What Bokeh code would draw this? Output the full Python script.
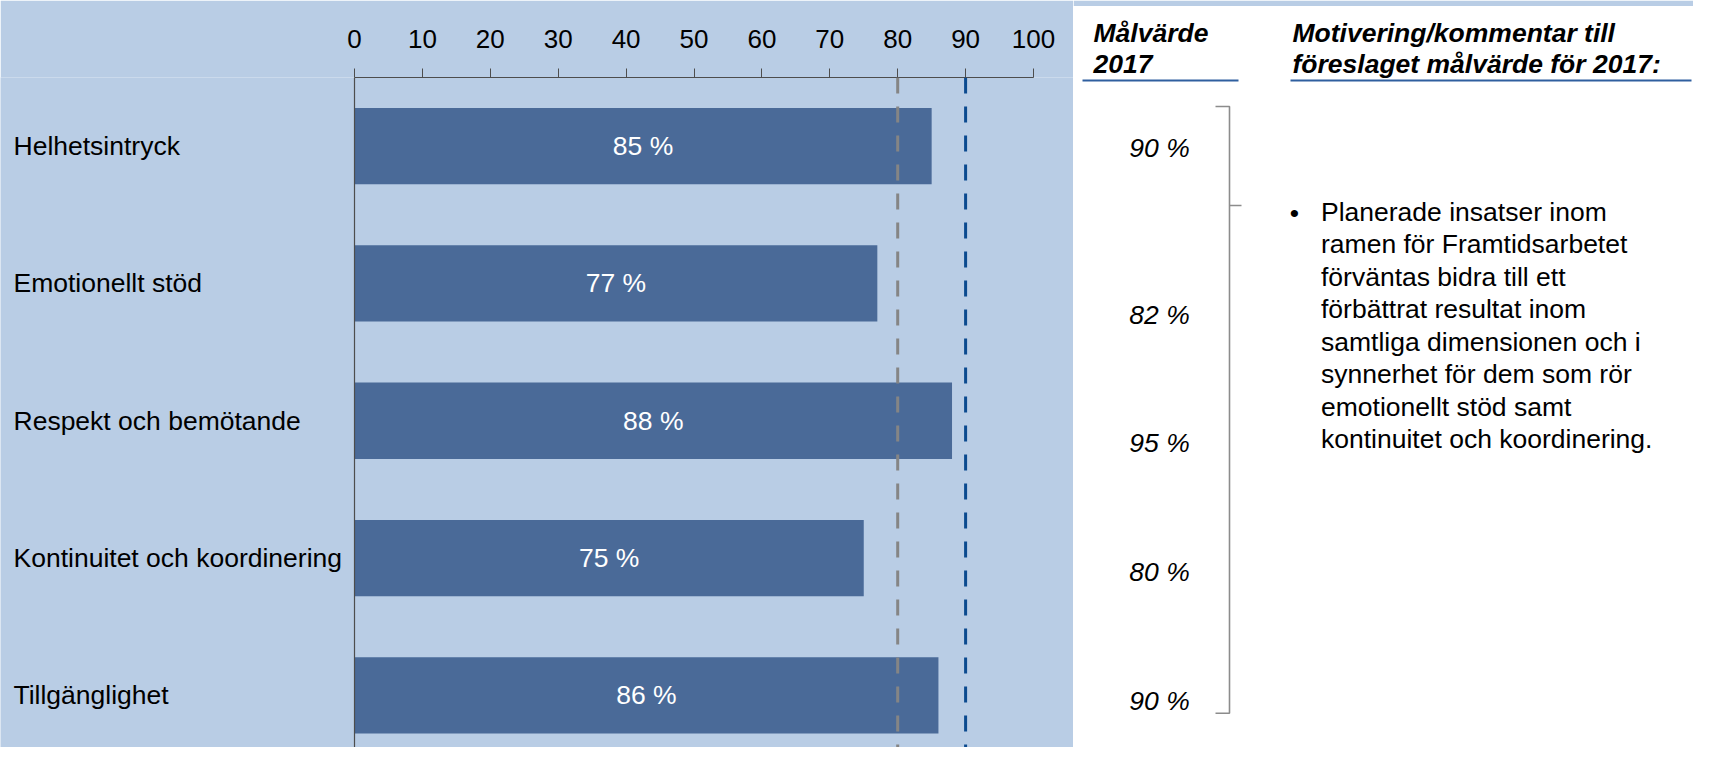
from bokeh.plotting import figure
from bokeh.models import Range1d, FixedTicker, Span, ColumnDataSource
from bokeh.layouts import row
from bokeh.embed import file_html
from bokeh.resources import INLINE
from bokeh.core.properties import value

# ---------------- data ----------------
categories = ["Helhetsintryck", "Emotionellt stöd", "Respekt och bemötande",
              "Kontinuitet och koordinering", "Tillgänglighet"]
results_pct = [85, 77, 88, 75, 86]
targets_2017 = [90, 82, 95, 80, 90]
reference_lines = [80, 90]
x_ticks = [0, 10, 20, 30, 40, 50, 60, 70, 80, 90, 100]
header_target = ["Målvärde", "2017"]
header_comment = ["Motivering/kommentar till", "föreslaget målvärde för 2017:"]
comment_lines = ["Planerade insatser inom", "ramen för Framtidsarbetet",
                 "förväntas bidra till ett", "förbättrat resultat inom",
                 "samtliga dimensionen och i", "synnerhet för dem som rör",
                 "emotionellt stöd samt", "kontinuitet och koordinering."]

# ---------------- styles / layout ----------------
FONT_NAME = "Liberation Sans"
FONT = value(FONT_NAME)
FS = "26.5px"
BG = "#B9CDE5"
BAR = "#4A6A98"
H = 747
WL = 1073
WR = 620

# ---------------- left: bar chart ----------------
pos = list(range(len(categories)))
zero_px = 354
px_per_unit = 6.79
xmin = -zero_px / px_per_unit
xmax = (WL - zero_px) / px_per_unit
band_px = 137.3
frame_top = 77
ybottom = -0.5 + (H - frame_top) / band_px

p = figure(width=WL, height=H, output_backend="svg", toolbar_location=None,
           x_range=Range1d(xmin, xmax), y_range=Range1d(ybottom, -0.5),
           x_axis_location="above", y_axis_location=None,
           min_border_left=0, min_border_right=0, min_border_bottom=0,
           min_border_top=frame_top)
p.frame_align = False
p.background_fill_color = BG
p.border_fill_color = BG
p.outline_line_color = None
p.grid.visible = False

ax = p.xaxis[0]
ax.ticker = FixedTicker(ticks=x_ticks)
ax.bounds = (0, 100)
ax.axis_line_color = "#4D4D4D"
ax.major_tick_line_color = "#4D4D4D"
ax.major_tick_in = 0
ax.major_tick_out = 9
ax.minor_tick_line_color = None
ax.major_label_text_font = FONT_NAME
ax.major_label_text_font_size = "26px"
ax.major_label_text_color = "#000000"
ax.major_label_standoff = 21

src = ColumnDataSource(dict(
    y=pos, right=results_pct, mid=[v / 2 for v in results_pct],
    lab=[f"{v} %" for v in results_pct], cat=categories,
    catx=[(13 - zero_px) / px_per_unit] * len(categories)))

p.hbar(y="y", left=0, right="right", height=0.556, fill_color=BAR,
       line_color=None, source=src)
p.text(x="mid", y="y", text="lab", source=src, text_color="white",
       text_align="center", text_baseline="middle", text_font=FONT,
       text_font_size=FS)
p.text(x="catx", y="y", text="cat", source=src, text_color="black",
       text_align="left", text_baseline="middle", text_font=FONT,
       text_font_size=FS)

p.add_layout(Span(location=0, dimension="height", line_color="#4D4D4D", line_width=1.2))
p.add_layout(Span(location=reference_lines[0], dimension="height",
                  line_color="#858585", line_width=3, line_dash="16 13"))
p.add_layout(Span(location=reference_lines[1], dimension="height",
                  line_color="#0B4A8F", line_width=3, line_dash="16 13"))

# ---------------- right: target panel (pixel-like coords) ----------------
q = figure(width=WR, height=H, output_backend="svg", toolbar_location=None,
           x_range=Range1d(WL, WL + WR), y_range=Range1d(H, 0),
           x_axis_location=None, y_axis_location=None, min_border=0)
q.frame_align = False
q.background_fill_color = "white"
q.border_fill_color = "white"
q.outline_line_color = None
q.grid.visible = False

# thin blue strip along the top edge
q.quad(left=[WL], right=[WL + WR], top=[0], bottom=[5.5], fill_color=BG,
       line_color=None)

head_y = [32.2, 63.8]
q.text(x=[1093] * 2, y=head_y, text=header_target, text_font=FONT,
       text_font_size=FS, text_font_style="bold italic", text_color="black",
       text_align="left", text_baseline="middle")
q.text(x=[1292] * 2, y=head_y, text=header_comment, text_font=FONT,
       text_font_size=FS, text_font_style="bold italic", text_color="black",
       text_align="left", text_baseline="middle")
q.segment(x0=[1082, 1290], y0=[80, 80], x1=[1238, 1691], y1=[80, 80],
          line_color="#2F5F9F", line_width=2.2)

target_y = [147, 314, 442.5, 571, 700]
q.text(x=[1159] * len(targets_2017), y=target_y,
       text=[f"{v} %" for v in targets_2017], text_font=FONT,
       text_font_size=FS, text_font_style="italic", text_color="black",
       text_align="center", text_baseline="middle")

# bracket
q.line(x=[1215, 1229, 1229, 1215], y=[106, 106, 712.7, 712.7],
       line_color="#8C8C8C", line_width=1.6)
q.line(x=[1229, 1241], y=[205, 205], line_color="#8C8C8C", line_width=1.6)

q.text(x=[1294], y=[212], text=["•"], text_font=FONT, text_font_size=FS,
       text_color="black", text_align="center", text_baseline="middle")
line_gap = 32.5
q.text(x=[1320.5] * len(comment_lines),
       y=[211 + i * line_gap for i in range(len(comment_lines))],
       text=comment_lines, text_font=FONT, text_font_size=FS,
       text_color="black", text_align="left", text_baseline="middle")

layout = row(p, q, spacing=0)
open("out.html", "w").write(file_html(layout, INLINE))
